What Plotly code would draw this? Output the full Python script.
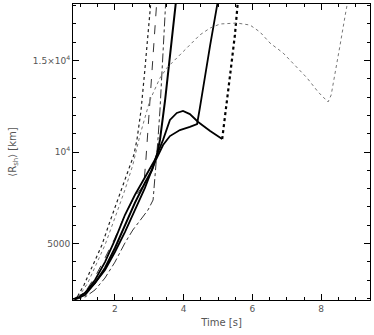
import plotly.graph_objects as go

# shock radius evolution, time in s, radius in km
t1 = [0.78, 0.92, 1.10, 1.33, 1.62, 1.85, 2.15, 2.38, 2.55, 2.64, 2.76, 2.87, 2.96, 3.05]
r1 = [1920, 2140, 2740, 3720, 4920, 6180, 7760, 9020, 9840, 10660, 12290, 14480, 16390, 18300]

t2 = [0.78, 0.98, 1.21, 1.45, 1.71, 2.00, 2.29, 2.52, 2.73, 2.84, 2.90, 2.96, 3.05, 3.14, 3.22]
r2 = [1920, 2140, 2570, 3280, 4210, 5300, 6560, 7380, 7930, 8200, 9560, 11200, 13390, 15840, 18300]

t3 = [0.78, 1.13, 1.42, 1.71, 2.00, 2.29, 2.52, 2.73, 2.96, 3.11, 3.19, 3.25, 3.31, 3.40, 3.48]
r3 = [1920, 2080, 2470, 3120, 3990, 5030, 5740, 6290, 6830, 7380, 9020, 10660, 12290, 15300, 18300]

t4 = [0.78, 1.13, 1.42, 1.71, 2.00, 2.29, 2.58, 2.87, 3.08, 3.22, 3.31, 3.46, 3.60, 3.78]
r4 = [1920, 2300, 2850, 3670, 4760, 6010, 7220, 8310, 9020, 9840, 10660, 12840, 15300, 18300]

t5 = [0.78, 1.13, 1.42, 1.71, 2.00, 2.29, 2.58, 2.87, 3.16, 3.40, 3.60, 3.89, 4.18, 4.39, 4.47, 4.62, 4.77, 5.00]
r5 = [1920, 2190, 2850, 3560, 4540, 5630, 6830, 8030, 9450, 10380, 10870, 11200, 11370, 11530, 12400, 14200, 15840, 18300]

t6 = [0.78, 1.13, 1.42, 1.71, 2.00, 2.29, 2.58, 2.87, 3.16, 3.40, 3.60, 3.80, 3.98, 4.18, 4.42, 4.77, 5.12,
      5.23, 5.35, 5.49, 5.58]
r6 = [1920, 2300, 3010, 3990, 5200, 6560, 7650, 8580, 9560, 10660, 11750, 12130, 12240, 12070, 11640, 11150, 10710,
      12290, 14200, 16390, 18300]

t7 = [0.78, 0.98, 1.21, 1.45, 1.71, 2.06, 2.29, 2.52, 2.73, 3.02, 3.31, 3.51, 3.89, 4.18, 4.47, 4.77, 5.06, 5.55,
      5.93, 6.22, 6.51, 6.89, 7.24, 7.59, 7.91, 8.20, 8.29, 8.40, 8.55, 8.70, 8.78]
r7 = [1920, 2190, 2850, 3830, 4920, 6720, 7930, 9290, 10930, 12840, 14040, 14590, 15300, 15840, 16390, 16770, 16990,
      17040, 16930, 16550, 15950, 15410, 14750, 14040, 13280, 12730, 13110, 14200, 15840, 17480, 18300]

ytick_vals = [5000, 10000, 15000]
ytick_text = ['5000', '10<sup>4</sup>', '1.5×10<sup>4</sup>']
xtick_vals = [2, 4, 6, 8]

fig = go.Figure()
fig.add_trace(go.Scatter(x=t1, y=r1, mode='lines', line=dict(color='#222', width=1.2, dash='dot')))
fig.add_trace(go.Scatter(x=t2, y=r2, mode='lines', line=dict(color='#333', width=1, dash='dash')))
fig.add_trace(go.Scatter(x=t3, y=r3, mode='lines', line=dict(color='#333', width=1, dash='dashdot')))
fig.add_trace(go.Scatter(x=t4, y=r4, mode='lines', line=dict(color='black', width=2)))
fig.add_trace(go.Scatter(x=t5, y=r5, mode='lines', line=dict(color='black', width=1.8)))
# peaked model: solid up to the dip, then dotted rise
k = r6.index(min(r6[10:]))
fig.add_trace(go.Scatter(x=t6[:k + 1], y=r6[:k + 1], mode='lines', line=dict(color='black', width=1.8)))
fig.add_trace(go.Scatter(x=t6[k:], y=r6[k:], mode='lines', line=dict(color='black', width=2.2, dash='dot')))
fig.add_trace(go.Scatter(x=t7, y=r7, mode='lines', line=dict(color='#777', width=1, dash='dot')))

axis_common = dict(showline=True, linecolor='black', linewidth=1, mirror='ticks', ticks='inside',
                   ticklen=6, tickcolor='black', showgrid=False, zeroline=False, automargin=False,
                   tickfont=dict(family='DejaVu Sans', size=9, color='#555'))

fig.update_layout(
    width=374, height=335,
    margin=dict(l=73, r=4, t=4, b=35),
    plot_bgcolor='white', paper_bgcolor='white',
    showlegend=False,
    xaxis=dict(range=[0.78, 9.42], tickvals=xtick_vals,
               minor=dict(dtick=0.5, tick0=0, ticks='inside', ticklen=3, tickcolor='black'),
               title=dict(text='Time [s]', font=dict(family='DejaVu Sans', size=10, color='#555'), standoff=6),
               **axis_common),
    yaxis=dict(range=[1920, 18080], tickvals=ytick_vals, ticktext=ytick_text,
               minor=dict(dtick=1000, tick0=0, ticks='inside', ticklen=3, tickcolor='black'),
               title=dict(text='⟨R<sub>sh</sub>⟩ [km]', font=dict(family='DejaVu Sans', size=10, color='#555'),
                          standoff=14),
               **axis_common),
)

fig.write_html("out.html", config={'displayModeBar': False},
               post_script="document.body.style.margin='0';")
